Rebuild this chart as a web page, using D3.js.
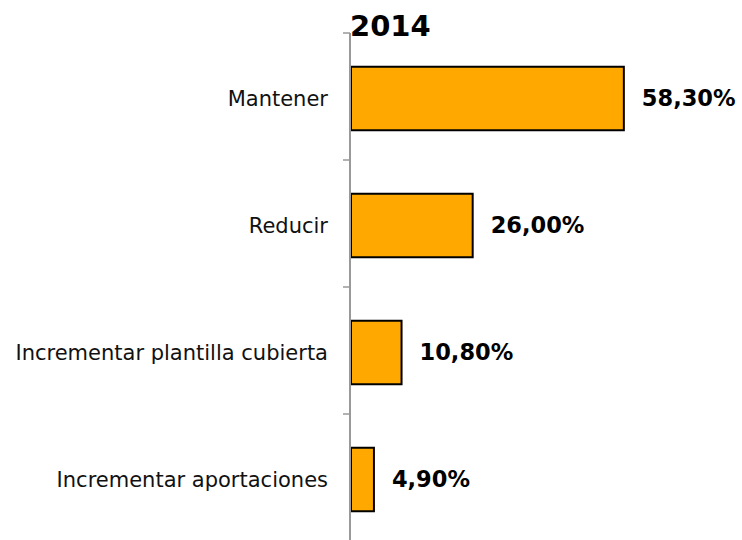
<!DOCTYPE html>
<html>
<head>
<meta charset="utf-8">
<script src="https://cdn.jsdelivr.net/npm/d3@7"></script>
<style>
  body { margin: 0; background: #fff; }
  svg { display: block; font-family: Tahoma, "DejaVu Sans", sans-serif; }
</style>
</head>
<body>
<div id="chart"></div>
<script>
const categories = ['Mantener', 'Reducir', 'Incrementar plantilla cubierta', 'Incrementar aportaciones'];
const values = [58.3, 26.0, 10.8, 4.9];
const valueLabels = ['58,30%', '26,00%', '10,80%', '4,90%'];
const title = '2014';

const width = 742, height = 540;
const axisX = 350, plotTop = 33, plotBottom = 541;

const svg = d3.select('#chart').append('svg')
  .attr('width', width)
  .attr('height', height);

const x = d3.scaleLinear()
  .domain([0, 70])
  .range([axisX, axisX + 70 * 4.68]);

// band scale nudged a bit down, bars sit slightly below band centre
const y = d3.scaleBand()
  .domain(categories)
  .range([plotTop + 2, plotBottom + 2])
  .paddingInner(0.5)
  .paddingOuter(0.25);

// bars
svg.selectAll('rect.bar')
  .data(values)
  .enter().append('rect')
    .attr('class', 'bar')
    .attr('x', x(0) + 1)
    .attr('y', (d, i) => y(categories[i]))
    .attr('width', d => x(d) - x(0))
    .attr('height', y.bandwidth())
    .attr('fill', '#FFA800')
    .attr('stroke', '#000')
    .attr('stroke-width', 2);

// axis line + ticks between categories
const tickYs = d3.range(categories.length + 1).map(i => plotTop + i * (plotBottom - plotTop) / categories.length);
svg.append('line')
  .attr('x1', axisX).attr('x2', axisX)
  .attr('y1', plotTop).attr('y2', plotBottom)
  .attr('stroke', '#999').attr('stroke-width', 2);
svg.selectAll('line.tick')
  .data(tickYs)
  .enter().append('line')
    .attr('class', 'tick')
    .attr('x1', axisX - 7).attr('x2', axisX)
    .attr('y1', d => d).attr('y2', d => d)
    .attr('stroke', '#999').attr('stroke-width', 1.5);

// category labels
svg.selectAll('text.cat')
  .data(categories)
  .enter().append('text')
    .attr('class', 'cat')
    .attr('x', axisX - 22)
    .attr('y', d => y(d) + y.bandwidth() / 2)
    .attr('dy', '0.35em')
    .attr('text-anchor', 'end')
    .attr('font-size', 21)
    .attr('fill', '#111')
    .text(d => d);

// value labels
svg.selectAll('text.val')
  .data(values)
  .enter().append('text')
    .attr('class', 'val')
    .attr('x', d => x(d) + 19)
    .attr('y', (d, i) => y(categories[i]) + y.bandwidth() / 2)
    .attr('dy', '0.35em')
    .attr('font-size', 22.5)
    .attr('font-weight', 'bold')
    .attr('fill', '#000')
    .text((d, i) => valueLabels[i]);

svg.append('text')
  .attr('x', axisX)
  .attr('y', 36)
  .attr('font-size', 29)
  .attr('font-weight', 'bold')
  .text(title);
</script>
</body>
</html>
